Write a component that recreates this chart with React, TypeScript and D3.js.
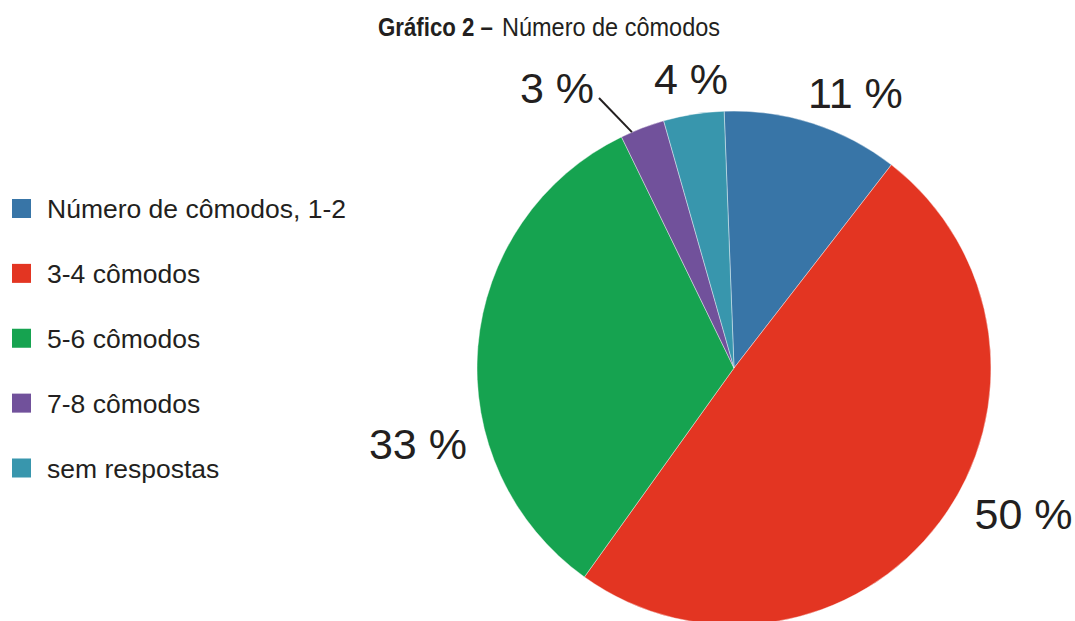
import React from "react";
import * as d3 from "d3";

const categories = ["Número de cômodos, 1-2", "3-4 cômodos", "5-6 cômodos", "7-8 cômodos", "sem respostas"];
const values = [11.1, 49.4, 32.9, 2.8, 3.8];
const labels = ["11 %", "50 %", "33 %", "3 %", "4 %"];
const colors = ["#3875a7", "#e33522", "#16a350", "#71519b", "#3896ad"];

// label placement: angle offset (deg) from slice middle and radius
const labelAngleOffset = [6, -10, -18.3, -11.3, 0.6];
const labelRadius = [301, 324, 325, 332, 293];

const W = 1075, H = 621;
const cx = 734, cy = 368, R = 257;
const startAngle = (-2.2 * Math.PI) / 180;
const font = "'Liberation Sans', Arial, Helvetica, sans-serif";
const textColor = "#231f20";

export default function App() {
  const pie = d3.pie<number>().sort(null).value((d) => d).startAngle(startAngle).endAngle(startAngle + 2 * Math.PI);
  const arcs = pie(values);
  const arc = d3.arc<d3.PieArcDatum<number>>().innerRadius(0).outerRadius(R);

  const legendY = d3.scalePoint<string>().domain(categories).range([208.5, 468]);

  return (
    <svg width={W} height={H} style={{ position: "absolute", left: 0, top: 0, background: "#fff" }}>
      <text x={378} y={36} fontFamily={font} fontSize={25.5} fill={textColor}>
        <tspan fontWeight="bold" textLength={115} lengthAdjust="spacingAndGlyphs">Gráfico 2 –</tspan>
      </text>
      <text x={502} y={36} fontFamily={font} fontSize={25.5} fill={textColor} textLength={218} lengthAdjust="spacingAndGlyphs">
        Número de cômodos
      </text>

      <g transform={`translate(${cx},${cy})`}>
        {arcs.map((a, i) => (
          <path key={i} d={arc(a) || ""} fill={colors[i]} stroke="#fff" strokeWidth={0.4} />
        ))}
        {arcs.map((a, i) => {
          const mid = (a.startAngle + a.endAngle) / 2 + (labelAngleOffset[i] * Math.PI) / 180;
          const r = labelRadius[i];
          const x = r * Math.sin(mid);
          const y = -r * Math.cos(mid);
          return (
            <text key={i} x={x} y={y} dy="0.36em" textAnchor="middle" fontFamily={font} fontSize={43} fill={textColor}>
              {labels[i]}
            </text>
          );
        })}
        {(() => {
          const a = arcs[3];
          const ang = (336.6 * Math.PI) / 180;
          const x2 = R * Math.sin(ang), y2 = -R * Math.cos(ang);
          const x1 = 599 - cx, y1 = 98 - cy;
          return <line x1={x1} y1={y1} x2={x2} y2={y2} stroke={textColor} strokeWidth={2} key={a.index} />;
        })()}
      </g>

      <g>
        {categories.map((c, i) => {
          const y = legendY(c) as number;
          return (
            <g key={c}>
              <rect x={12} y={y - 9.5} width={19} height={19} fill={colors[i]} />
              <text x={47} y={y} dy="0.36em" fontFamily={font} fontSize={26.5} fill={textColor}>
                {c}
              </text>
            </g>
          );
        })}
      </g>
    </svg>
  );
}
